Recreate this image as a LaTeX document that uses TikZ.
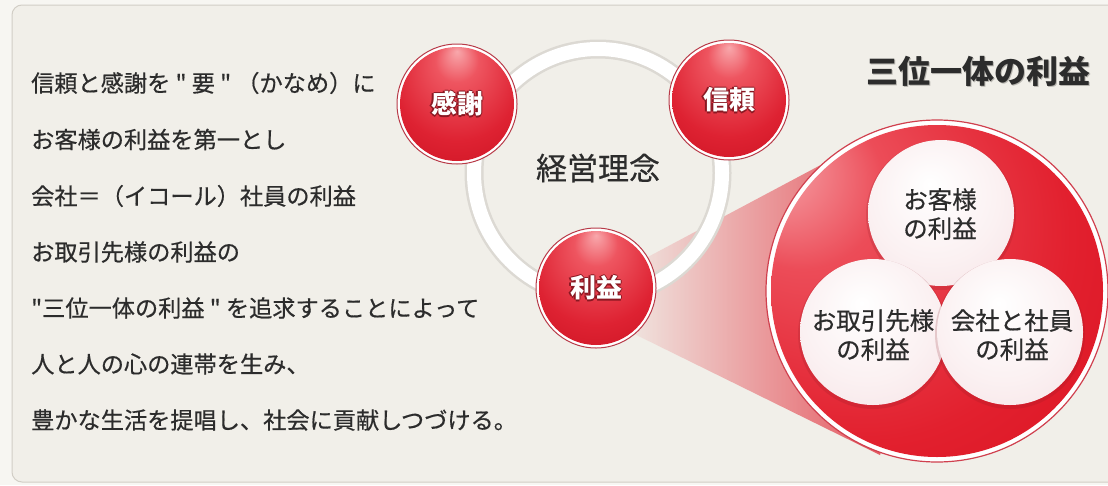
\documentclass[tikz,border=0pt]{standalone}
\usepackage{fontspec}
\setmainfont{Noto Sans CJK JP}[Ligatures=TeXOff]
\newfontfamily\jpm{Noto Sans CJK JP}[Ligatures=TeXOff, FakeBold=0.5]
\usetikzlibrary{fadings}
\definecolor{outerbg}{HTML}{F7F6F2}
\definecolor{panelbg}{HTML}{F1EFE9}
\definecolor{panelrim}{HTML}{D2CEC6}
\definecolor{txtcol}{HTML}{2C2C2C}
\definecolor{ballA}{HTML}{F8A8AC}
\definecolor{ballB}{HTML}{EE5560}
\definecolor{ballC}{HTML}{DE2232}
\definecolor{ballD}{HTML}{C8101F}
\definecolor{ballE}{HTML}{B00818}
\definecolor{ballrimcol}{HTML}{B83A48}
\definecolor{balldark}{HTML}{8A1822}
\definecolor{bigA}{HTML}{F7B0B4}
\definecolor{bigB}{HTML}{EC4C58}
\definecolor{bigC}{HTML}{E2202E}
\definecolor{bigD}{HTML}{D8101F}
\definecolor{bigE}{HTML}{C80818}
\definecolor{bigrim}{HTML}{D0404E}
\definecolor{pearlA}{HTML}{FFFFFF}
\definecolor{pearlB}{HTML}{FBF1F2}
\definecolor{pearlC}{HTML}{F5E0E3}
\definecolor{pearlD}{HTML}{E6BEC4}
\definecolor{conecol}{HTML}{E2303C}
\definecolor{ringedge}{HTML}{DCD9D3}
\definecolor{titleshadow}{HTML}{B8B6B0}
\pgfdeclareradialshading{redball}{\pgfpoint{0bp}{22bp}}{color(0bp)=(ballA); color(9bp)=(ballB); color(26bp)=(ballC); color(42bp)=(ballD); color(50bp)=(ballE)}
\pgfdeclareradialshading{bigred}{\pgfpoint{-26bp}{20bp}}{color(0bp)=(bigA); color(12bp)=(bigB); color(30bp)=(bigC); color(45bp)=(bigD); color(50bp)=(bigE)}
\pgfdeclareradialshading{pearl}{\pgfpoint{-4bp}{10bp}}{color(0bp)=(pearlA); color(22bp)=(pearlB); color(42bp)=(pearlC); color(50bp)=(pearlD)}
\tikzfading[name=conefade, left color=transparent!100, right color=transparent!5]
\newcommand\outl[1]{\leavevmode\rlap{\textcolor{balldark}{\kern-1.2pt#1}}\rlap{\textcolor{balldark}{\kern1.2pt#1}}\rlap{\textcolor{balldark}{\raisebox{1.2pt}{#1}}}\rlap{\textcolor{balldark}{\raisebox{-1.2pt}{#1}}}#1}
\newcommand\shadowtxt[1]{\leavevmode\rlap{\textcolor{titleshadow}{\kern1.6pt\raisebox{-1.6pt}{#1}}}#1}
\begin{document}
\begin{tikzpicture}[x=1pt,y=-1pt,
  txt/.style={inner sep=0pt, text=txtcol, font=\jpm\fontsize{23.2}{27}\selectfont, anchor=west},
  ballrim/.style={circle, minimum size=120pt, inner sep=0pt, draw=ballrimcol, line width=1pt, fill=white,
    font=\bfseries\fontsize{26}{26}\selectfont, text=white,
    path picture={\shade[shading=redball] (path picture bounding box.center) circle[radius=57];}},
  pearlnode/.style={circle, minimum size=146pt, inner sep=0pt, shading=pearl},
  ptxt/.style={align=center, inner sep=0pt, text=txtcol, font=\jpm\fontsize{24.5}{29}\selectfont},
]
\useasboundingbox (0,0) rectangle (1108,485);
\fill[outerbg] (0,0) rectangle (1108,485);
\draw[panelrim, fill=panelbg, line width=1pt, rounded corners=10pt] (12,5) rectangle (1130,482);

% left text
\node[txt] (l1) at (31,83) {信頼と感謝を " 要 " （かなめ）に};
\node[txt] (l2) at (31,139.5) {お客様の利益を第一とし};
\node[txt] (l3) at (31,196) {会社＝（イコール）社員の利益};
\node[txt] (l4) at (31,252) {お取引先様の利益の};
\node[txt] (l5) at (31,308) {"三位一体の利益 " を追求することによって};
\node[txt] (l6) at (31,364) {人と人の心の連帯を生み、};
\node[txt] (l7) at (31,420) {豊かな生活を提唱し、社会に貢献しつづける。};

% cone
\coordinate (bigc) at (937,291);
\fill[conecol, path fading=conefade] (612,276) -- (830,160) -- (bigc) -- (880,455) -- (612,323) -- cycle;

% ring
\node[circle, minimum size=248pt, inner sep=0pt, draw=ringedge, line width=19pt] (ring) at (598,173) {};
\draw[white, line width=14pt] (ring.center) circle[radius=124];
\node[font=\jpm\fontsize{31}{31}\selectfont, text=txtcol, inner sep=0pt] (keiei) at (598,168) {経営理念};

% balls
\node[ballrim] (kansha) at (457,104) {\outl{感謝}};
\node[ballrim] (shinrai) at (729,100) {\outl{信頼}};
\node[ballrim] (rieki) at (596,288) {\outl{利益}};

% big circle
\node[circle, minimum size=342pt, inner sep=0pt, draw=bigrim, line width=1.2pt, fill=white,
  path picture={\shade[shading=bigred] (path picture bounding box.center) circle[radius=166];}] (big) at (bigc) {};

% white circles
\fill[balldark, opacity=0.18] (941,215) circle[radius=75];
\node[pearlnode] (ctop) at (941,213) {};
\fill[balldark, opacity=0.18] (873,334) circle[radius=75];
\node[pearlnode] (cleft) at (873,332) {};
\fill[balldark, opacity=0.18] (1010,334) circle[radius=75];
\node[pearlnode] (cright) at (1010,332) {};
\node[ptxt] (ttop) at (940,214) {お客様\\の利益};
\node[ptxt] (tleft) at (873,335) {お取引先様\\の利益};
\node[ptxt] (tright) at (1012,335) {会社と社員\\の利益};

% title
\node[font=\bfseries\fontsize{32}{32}\selectfont, text=txtcol, inner sep=0pt] (title) at (978,72) {\shadowtxt{三位一体の利益}};
\end{tikzpicture}
\end{document}
